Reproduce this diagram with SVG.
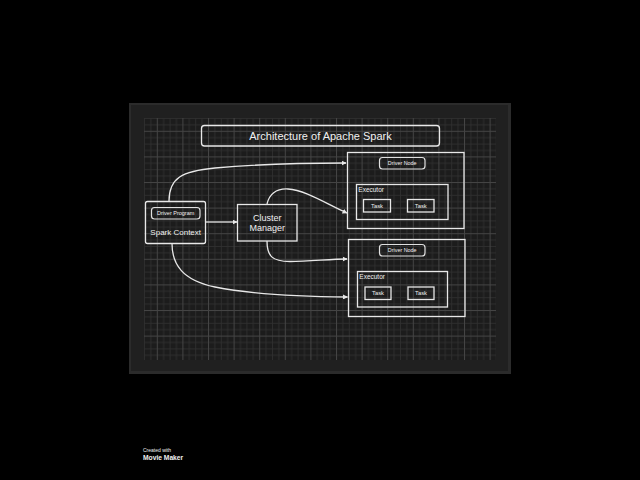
<svg xmlns="http://www.w3.org/2000/svg" width="640" height="480" viewBox="0 0 640 480">
<defs>
<pattern id="grid" x="144" y="118" width="25.6" height="25.6" patternUnits="userSpaceOnUse">
<rect x="0" y="0" width="0.9" height="25.6" fill="#2f2f2f"/>
<rect x="6.4" y="0" width="0.9" height="25.6" fill="#2f2f2f"/>
<rect x="19.2" y="0" width="0.9" height="25.6" fill="#2f2f2f"/>
<rect x="0" y="0" width="25.6" height="0.9" fill="#2f2f2f"/>
<rect x="0" y="6.4" width="25.6" height="0.9" fill="#2f2f2f"/>
<rect x="0" y="19.2" width="25.6" height="0.9" fill="#2f2f2f"/>
<rect x="12.8" y="0" width="1" height="25.6" fill="#444444"/>
<rect x="0" y="12.8" width="25.6" height="1" fill="#444444"/>
</pattern>
<marker id="arr" viewBox="0 0 10 10" refX="9" refY="5" markerWidth="5" markerHeight="5" markerUnits="userSpaceOnUse" orient="auto">
<path d="M0,0 L10,5 L0,10 z" fill="#e8e8e8"/>
</marker>
<style>
.box{fill:none;stroke:#e8e8e8;stroke-width:1.3}
.pill{fill:none;stroke:#e0e0e0;stroke-width:1.2}
.conn{fill:none;stroke:#e8e8e8;stroke-width:1.3;marker-end:url(#arr)}
.t{font-family:"Liberation Sans",Arial,sans-serif;fill:#f0f0f0}
</style>
</defs>
<rect x="0" y="0" width="640" height="480" fill="#000"/>
<rect x="129" y="103" width="382" height="271" fill="#2b2b2b"/>
<rect x="131" y="105" width="377" height="266" fill="#202020"/>
<rect x="144" y="118" width="352" height="242" fill="#1c1c1c"/>
<rect x="144" y="118" width="352" height="242" fill="url(#grid)"/>

<g id="title">
<rect class="box" x="201.5" y="125.5" width="238" height="20.5" rx="3"/>
<text class="t" x="320.5" y="139.5" font-size="11" text-anchor="middle">Architecture of Apache Spark</text>
</g>

<g id="spark-context">
<rect class="box" x="145.5" y="201.5" width="60" height="42" rx="2"/>
<rect class="pill" x="151.5" y="207.5" width="48.5" height="11.5" rx="3"/>
<text class="t" x="175.7" y="215.2" font-size="5.5" text-anchor="middle">Driver Program</text>
<text class="t" x="175.7" y="235" font-size="8" text-anchor="middle">Spark Context</text>
</g>

<g id="cluster-manager">
<rect class="box" x="237.5" y="204.5" width="59.5" height="36.5"/>
<text class="t" x="267.2" y="220.5" font-size="9" text-anchor="middle">Cluster</text>
<text class="t" x="267.2" y="231" font-size="9" text-anchor="middle">Manager</text>
</g>

<g id="driver-node-1">
<rect class="box" x="347.5" y="152.5" width="116.5" height="76"/>
<rect class="pill" x="379.5" y="157.5" width="45.5" height="11.5" rx="3"/>
<text class="t" x="402.2" y="165.2" font-size="5.4" text-anchor="middle">Driver Node</text>
<rect class="box" x="356.5" y="184.5" width="91.5" height="35"/>
<text class="t" x="358.3" y="191.7" font-size="6.5">Executor</text>
<rect class="box" x="363.5" y="199.5" width="27" height="12.5"/>
<text class="t" x="377" y="207.9" font-size="5.8" text-anchor="middle">Task</text>
<rect class="box" x="407.5" y="199.5" width="26.5" height="12.5"/>
<text class="t" x="420.8" y="207.9" font-size="5.8" text-anchor="middle">Task</text>
</g>

<g id="driver-node-2">
<rect class="box" x="348.5" y="239.5" width="116.5" height="77"/>
<rect class="pill" x="379.5" y="244.5" width="45.5" height="11.5" rx="3"/>
<text class="t" x="402.2" y="252.2" font-size="5.4" text-anchor="middle">Driver Node</text>
<rect class="box" x="357.5" y="271.5" width="90" height="35.5"/>
<text class="t" x="359.3" y="279" font-size="6.5">Executor</text>
<rect class="box" x="365" y="287" width="26" height="12.5"/>
<text class="t" x="378" y="295.4" font-size="5.8" text-anchor="middle">Task</text>
<rect class="box" x="408" y="287" width="26" height="12.5"/>
<text class="t" x="421" y="295.4" font-size="5.8" text-anchor="middle">Task</text>
</g>

<g id="connectors">
<path class="conn" d="M205.5,222 L237,222"/>
<path class="conn" d="M169,201 C169,178 182,171 215,168 C255,164.5 300,163 346,163"/>
<path class="conn" d="M267,204 C270,192 278,188.5 288,189 C305,190 325,203 347,213"/>
<path class="conn" d="M267,241 C267,256 272,261.5 290,261.5 C310,261.5 330,259 347,259"/>
<path class="conn" d="M172,243.5 C172,264 182,280 215,287 C250,294 290,296.5 347.5,297"/>
</g>

<g id="footer">
<text class="t" x="143" y="452" font-size="5" fill="#dddddd">Created with</text>
<text class="t" x="143" y="460" font-size="6.7" font-weight="bold">Movie Maker</text>
</g>
</svg>
